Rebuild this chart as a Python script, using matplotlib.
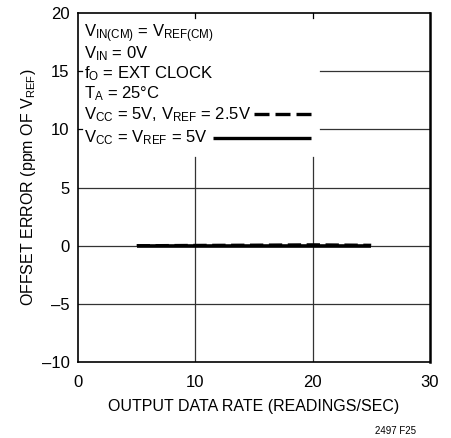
import numpy as np
import matplotlib
matplotlib.use("Agg")
import matplotlib.pyplot as plt

plt.rcParams['font.family'] = ['Liberation Sans Narrow', 'Liberation Sans', 'DejaVu Sans']
plt.rcParams['mathtext.default'] = 'regular'

# data
rate = [5, 10, 15, 20, 25]
err_5v = [0.0, 0.0, 0.0, 0.0, 0.0]
err_25v = [0.04, 0.07, 0.09, 0.12, 0.08]

xticks = [0, 10, 20, 30]
yticks = [-10, -5, 0, 5, 10, 15, 20]
yticklabels = ['\u201310', '\u20135', '0', '5', '10', '15', '20']

cond_lines = [
    r'$V_{IN(CM)}$ = $V_{REF(CM)}$',
    r'$V_{IN}$ = 0V',
    r'$f_O$ = EXT CLOCK',
    '$T_A$ = 25\u00b0C',
    r'$V_{CC}$ = 5V, $V_{REF}$ = 2.5V',
    r'$V_{CC}$ = $V_{REF}$ = 5V',
]

fig = plt.figure(figsize=(4.52, 4.38), dpi=100)
ax = fig.add_axes([0.1726, 0.1735, 0.951 - 0.1726, 0.970 - 0.1735])

ax.set_xlim(0, 30)
ax.set_ylim(-10, 20)

# grid (partly hidden behind the condition text)
gc = '#333333'
for y in [-5, 0, 5]:
    ax.axhline(y, color=gc, lw=0.9, zorder=1)
for y in [10, 15]:
    ax.axhline(y, xmin=0.688, color=gc, lw=0.9, zorder=1)
for x in [10, 20]:
    ax.axvline(x, ymax=0.587, color=gc, lw=0.9, zorder=1)

ax.plot(rate, err_5v, color='black', lw=2.6, solid_capstyle='butt', zorder=3)
ax.plot(rate, err_25v, color='black', lw=1.6, dashes=(6, 2.5), zorder=4)

# condition text
ys = [18.2, 16.5, 14.8, 13.1, 11.3, 9.3]
for txt, y in zip(cond_lines, ys):
    ax.text(0.55, y, txt, fontsize=12, va='center', ha='left')
ax.plot([15.0, 19.9], [11.3, 11.3], color='black', lw=2.4, dashes=(4.5, 1.8))
ax.plot([11.5, 19.9], [9.3, 9.3], color='black', lw=2.4, solid_capstyle='butt')

ax.set_xticks(xticks)
ax.set_yticks(yticks)
ax.set_yticklabels(yticklabels)
ax.tick_params(axis='x', labelsize=12, length=0, pad=9)
ax.tick_params(axis='y', labelsize=12, length=0, pad=6)
# small inward ticks
for y in [10, 15]:
    ax.plot([0, 0.35], [y, y], color='black', lw=0.9, clip_on=False)
for x in [10, 20]:
    ax.plot([x, x], [20, 19.6], color='black', lw=0.9, clip_on=False)

for s in ax.spines.values():
    s.set_linewidth(1.2)
ax.spines['right'].set_linewidth(1.8)

ax.set_xlabel('OUTPUT DATA RATE (READINGS/SEC)', fontsize=11.5, labelpad=7)
ax.set_ylabel(r'OFFSET ERROR (ppm OF $V_{REF}$)', fontsize=11.5, labelpad=3)

fig.text(0.92, 0.005, '2497 F25', fontsize=7, ha='right', va='bottom')

fig.savefig('out.png', dpi=100)
